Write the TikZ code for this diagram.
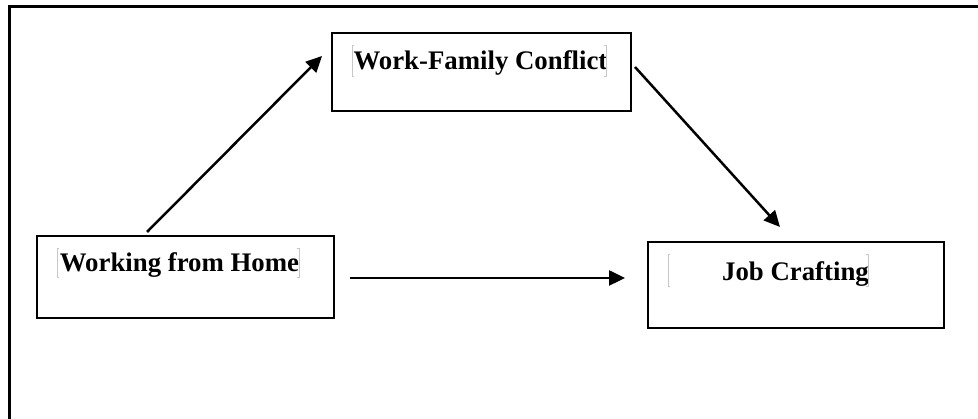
\documentclass[tikz,border=0pt]{standalone}
\usepackage{fontspec}
\setmainfont{Liberation Serif}
\usetikzlibrary{arrows.meta}
\begin{document}
\begin{tikzpicture}[x=1pt,y=1pt,
  boxnode/.style={draw=black,line width=2.6pt,rectangle,inner sep=0pt,outer sep=0pt},
  lbl/.style={font=\fontsize{26.8}{30}\selectfont\bfseries,inner sep=0pt,anchor=base},
  arr/.style={line width=2.5pt,-{Triangle[length=16pt,width=15pt]}},
  marker/.style={draw=black!22,line width=0.8pt},
  frameline/.style={line width=3pt}]
\useasboundingbox (0,0) rectangle (978,419);
% outer frame (cropped on right and bottom)
\draw[frameline] (9,0) -- (9,412) -- (978,412);
% boxes
\node[boxnode,minimum width=297pt,minimum height=82pt] (wfh) at (185.5,142) {};
\node[boxnode,minimum width=299pt,minimum height=78pt] (wfc) at (481.5,347) {};
\node[boxnode,minimum width=296pt,minimum height=86pt] (jc) at (796,134) {};
% labels
\node[lbl] (twfh) at (179.5,147.3) {Working from Home};
\node[lbl] (twfc) at (480.5,349) {Work-Family Conflict};
\node[lbl] (tjc) at (795.5,138.3) {Job Crafting};
% faint text-frame markers
\draw[marker] (59,171) -- (57,171) -- (57,142) -- (59,142);
\draw[marker] (297,171) -- (299,171) -- (299,142) -- (297,142);
\draw[marker] (354,374) -- (352,374) -- (352,343) -- (354,343);
\draw[marker] (604,374) -- (606,374) -- (606,343) -- (604,343);
\draw[marker] (670,165) -- (668,165) -- (668,133) -- (670,133);
\draw[marker] (866,165) -- (868,165) -- (868,133) -- (866,133);
% connectors
\coordinate (s1) at ([shift={(-38.5,4)}]wfh.north);
\coordinate (e1) at ([shift={(-10,16)}]wfc.west);
\coordinate (s2) at ([shift={(4,5)}]wfc.east);
\coordinate (e2) at ([shift={(-16,15)}]jc.north);
\coordinate (s3) at ([shift={(16,-1)}]wfh.east);
\coordinate (e3) at ([shift={(-23,7)}]jc.west);
\draw[arr] (s1) -- (e1);
\draw[arr] (s2) -- (e2);
\draw[arr] (s3) -- (e3);
\end{tikzpicture}
\end{document}
